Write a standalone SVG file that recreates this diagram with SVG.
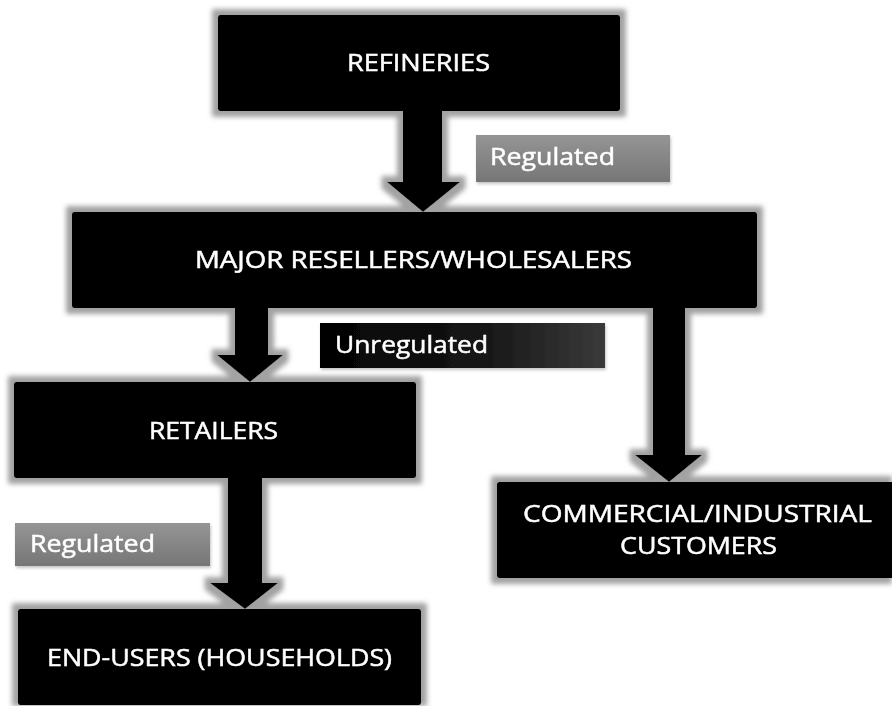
<svg xmlns="http://www.w3.org/2000/svg" width="892" height="706" viewBox="0 0 892 706">
  <defs>
    <filter id="glow" filterUnits="userSpaceOnUse" x="0" y="0" width="892" height="706">
      <feMorphology in="SourceAlpha" operator="dilate" radius="6" result="d"/>
      <feGaussianBlur in="d" stdDeviation="2.5" result="b"/>
      <feFlood flood-color="#a2a2a2"/>
      <feComposite in2="b" operator="in" result="g"/>
      <feMerge><feMergeNode in="g"/><feMergeNode in="SourceGraphic"/></feMerge>
    </filter>
    <filter id="soft" x="-10%" y="-20%" width="120%" height="140%">
      <feGaussianBlur in="SourceAlpha" stdDeviation="1.5" result="b"/>
      <feOffset in="b" dx="1" dy="2" result="o"/>
      <feFlood flood-color="#c4c4c4"/>
      <feComposite in2="o" operator="in" result="s"/>
      <feMerge><feMergeNode in="s"/><feMergeNode in="SourceGraphic"/></feMerge>
    </filter>
    <linearGradient id="gray" x1="0" y1="0" x2="0" y2="1">
      <stop offset="0" stop-color="#959595"/>
      <stop offset="1" stop-color="#767676"/>
    </linearGradient>
    <linearGradient id="dark" x1="0" y1="0" x2="1" y2="0">
      <stop offset="0" stop-color="#020202"/>
      <stop offset="0.55" stop-color="#151515"/>
      <stop offset="1" stop-color="#3a3a3a"/>
    </linearGradient>
  </defs>
  <style>
    .box { fill: #000; }
    .arrow { fill: #000; }
    .t { font-family: "Open Sans", "Noto Sans", "DejaVu Sans", sans-serif; font-size: 24px; fill: #fff; stroke: #fff; stroke-width: 0.5px; }
  </style>
  <rect width="892" height="706" fill="#fff"/>

  <g filter="url(#glow)">
    <g id="connectors">
      <polygon class="arrow" points="403,100 442,100 442,182 460,182 423,212 387,182 403,182"/>
      <polygon class="arrow" points="235,300 268,300 268,355 283,355 250,382 217,355 235,355"/>
      <polygon class="arrow" points="653,300 685,300 685,455 702,455 669,482 635,455 653,455"/>
      <polygon class="arrow" points="228,470 262,470 262,583 278,583 245,609 210,583 228,583"/>
    </g>
    <g id="node-refineries">
      <rect class="box" x="218" y="15" width="402" height="96" rx="2"/>
      <text class="t" x="347" y="71" textLength="143" lengthAdjust="spacingAndGlyphs">REFINERIES</text>
    </g>
    <g id="node-wholesalers">
      <rect class="box" x="72" y="212" width="685" height="96" rx="2"/>
      <text class="t" x="195" y="268" textLength="437" lengthAdjust="spacingAndGlyphs">MAJOR RESELLERS/WHOLESALERS</text>
    </g>
    <g id="node-retailers">
      <rect class="box" x="14" y="382" width="402" height="96" rx="2"/>
      <text class="t" x="149" y="439" textLength="129" lengthAdjust="spacingAndGlyphs">RETAILERS</text>
    </g>
    <g id="node-commercial">
      <rect class="box" x="497" y="482" width="403" height="96" rx="2"/>
      <text class="t" x="523" y="522" textLength="349" lengthAdjust="spacingAndGlyphs">COMMERCIAL/INDUSTRIAL</text>
      <text class="t" x="620" y="554" textLength="157" lengthAdjust="spacingAndGlyphs">CUSTOMERS</text>
    </g>
    <g id="node-endusers">
      <rect class="box" x="18" y="609" width="403" height="96" rx="2"/>
      <text class="t" x="47" y="666" textLength="345" lengthAdjust="spacingAndGlyphs">END-USERS (HOUSEHOLDS)</text>
    </g>
  </g>

  <g id="labels">
    <g id="label-regulated-1" filter="url(#soft)">
      <rect x="476" y="135" width="194" height="47" fill="url(#gray)"/>
      <text class="t" x="490" y="165" textLength="125" lengthAdjust="spacingAndGlyphs">Regulated</text>
    </g>
    <g id="label-unregulated" filter="url(#soft)">
      <rect x="320" y="323" width="285" height="45" fill="url(#dark)"/>
      <text class="t" x="335" y="353" textLength="153" lengthAdjust="spacingAndGlyphs">Unregulated</text>
    </g>
    <g id="label-regulated-2" filter="url(#soft)">
      <rect x="15" y="523" width="195" height="43" fill="url(#gray)"/>
      <text class="t" x="30" y="552" textLength="125" lengthAdjust="spacingAndGlyphs">Regulated</text>
    </g>
  </g>
</svg>
